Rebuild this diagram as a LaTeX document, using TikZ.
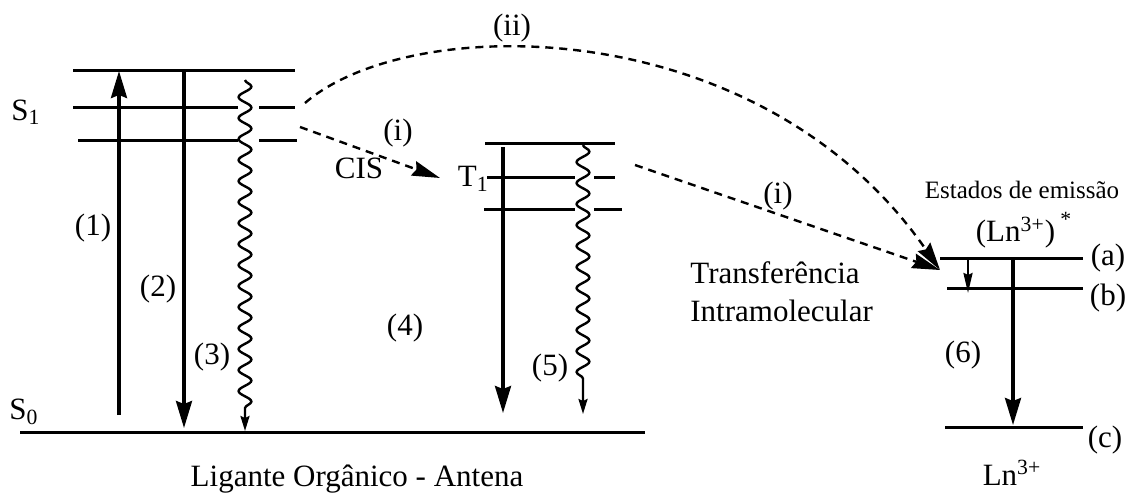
\documentclass[tikz,border=0pt]{standalone}
\usepackage{fontspec}
\setmainfont{Liberation Serif}
\usetikzlibrary{arrows.meta,decorations.pathmorphing}
\begin{document}
\begin{tikzpicture}[x=0.5pt,y=-0.5pt,
  lvl/.style={line width=1.5pt},
  bigarr/.style={line width=1.6pt,-{Stealth[length=13.5pt,width=8pt,inset=1.5pt]}},
  smallarr/.style={line width=1.2pt,-{Stealth[length=10pt,width=4.5pt,inset=1pt]}},
  wavy/.style={line width=1.2pt,decorate,decoration={snake,segment length=10.5pt,amplitude=3.2pt,post length=#1},-{Stealth[length=7.5pt,width=4.5pt,inset=1pt]}},
  dasharr/.style={line width=1.2pt,dash pattern=on 4pt off 3pt,-{Stealth[length=14pt,width=7.5pt,inset=1.5pt]}},
  lbl/.style={font=\fontsize{15.5}{19}\selectfont, inner sep=0pt},
  smalllbl/.style={font=\fontsize{12.5}{15}\selectfont, inner sep=0pt},
  ]
\useasboundingbox (0,0) rectangle (1133,492);

% ---- S1 levels ----
\coordinate (a1l) at (73,71);  \coordinate (a1r) at (295,71);
\coordinate (a2l) at (73,107); \coordinate (a2g) at (238,107); \coordinate (a2h) at (259,107); \coordinate (a2r) at (295,107);
\coordinate (a3l) at (78,140); \coordinate (a3g) at (238,140); \coordinate (a3h) at (259,140); \coordinate (a3r) at (297,140);
\draw[lvl] (a1l) -- (a1r);
\draw[lvl] (a2l) -- (a2g) (a2h) -- (a2r);
\draw[lvl] (a3l) -- (a3g) (a3h) -- (a3r);
% ---- S0 ----
\coordinate (s0l) at (20,432); \coordinate (s0r) at (645,432);
\draw[lvl] (s0l) -- (s0r);

% ---- T1 levels ----
\coordinate (b1l) at (485,143); \coordinate (b1r) at (615,143);
\coordinate (b2l) at (487,177); \coordinate (b2g) at (575,177); \coordinate (b2h) at (594,177); \coordinate (b2r) at (615,177);
\coordinate (b3l) at (484,209); \coordinate (b3g) at (575,209); \coordinate (b3h) at (594,209); \coordinate (b3r) at (622,209);
\draw[lvl] (b1l) -- (b1r);
\draw[lvl] (b2l) -- (b2g) (b2h) -- (b2r);
\draw[lvl] (b3l) -- (b3g) (b3h) -- (b3r);

% ---- Ln levels ----
\coordinate (cal) at (940,258); \coordinate (car) at (1083,258);
\coordinate (cbl) at (947,288); \coordinate (cbr) at (1083,288);
\coordinate (ccl) at (945,427); \coordinate (ccr) at (1083,427);
\draw[lvl] (cal) -- (car);
\draw[lvl] (cbl) -- (cbr);
\draw[lvl] (ccl) -- (ccr);

% ---- transitions ----
\coordinate (e1b) at (119,415); \coordinate (e1t) at (119,71);
\draw[bigarr] (e1b) -- (e1t);
\coordinate (e2t) at (184,71); \coordinate (e2b) at (184,428);
\draw[bigarr] (e2t) -- (e2b);
\coordinate (w3t) at (245,80); \coordinate (w3b) at (245,431);
\draw[wavy=11pt] (w3t) -- (w3b);
\coordinate (e4t) at (503,147); \coordinate (e4b) at (503,413);
\draw[bigarr] (e4t) -- (e4b);
\coordinate (w5t) at (583,145); \coordinate (w5b) at (583,414);
\draw[wavy=17pt] (w5t) -- (w5b);
\coordinate (e7t) at (968,259); \coordinate (e7b) at (968,293);
\draw[smallarr] (e7t) -- (e7b);
\coordinate (e6t) at (1013,258); \coordinate (e6b) at (1013,425);
\draw[bigarr] (e6t) -- (e6b);

% ---- dashed transfers ----
\coordinate (d1s) at (300,127); \coordinate (d1e) at (440,178);
\draw[dasharr] (d1s) -- (d1e);
\coordinate (d2s) at (635,165); \coordinate (lnin) at (940,270);
\draw[dasharr] (d2s) -- (lnin);
\coordinate (d3s) at (305,103);
\draw[dasharr] (d3s) .. controls (410,12) and (760,10) .. (lnin);

% ---- labels ----
\node[lbl] (S1) at (26,112) {S\textsubscript{1}};
\node[lbl] (S0) at (24,412) {S\textsubscript{0}};
\node[lbl] (n1) at (93,228) {(1)};
\node[lbl] (n2) at (158,289) {(2)};
\node[lbl] (n3) at (212,357) {(3)};
\node[lbl] (n4) at (405,328) {(4)};
\node[lbl] (n5) at (550,368) {(5)};
\node[lbl] (n6) at (963,355) {(6)};
\node[lbl] (cis) at (359,168) {CIS};
\node[lbl] (i1) at (398,133) {(i)};
\node[lbl,anchor=east] (T1) at (489,179) {T\textsubscript{1}};
\node[lbl] (ii) at (512,28) {(ii)};
\node[lbl] (i2) at (778,196) {(i)};
\node[lbl,align=left,anchor=west] (tr) at (690,292) {Transferência\\Intramolecular};
\node[smalllbl] (est) at (1022,190) {Estados de emissão};
\node[lbl] (lnst) at (1024,230) {(Ln\textsuperscript{3+})\,\raisebox{0.35ex}{\textsuperscript{*}}};
\node[lbl] (la) at (1108,258) {(a)};
\node[lbl] (lb) at (1108,298) {(b)};
\node[lbl] (lc) at (1105,440) {(c)};
\node[lbl] (ln) at (1012,473) {Ln\textsuperscript{3+}};
\node[lbl] (lig) at (357,479) {Ligante Orgânico - Antena};
\end{tikzpicture}
\end{document}
